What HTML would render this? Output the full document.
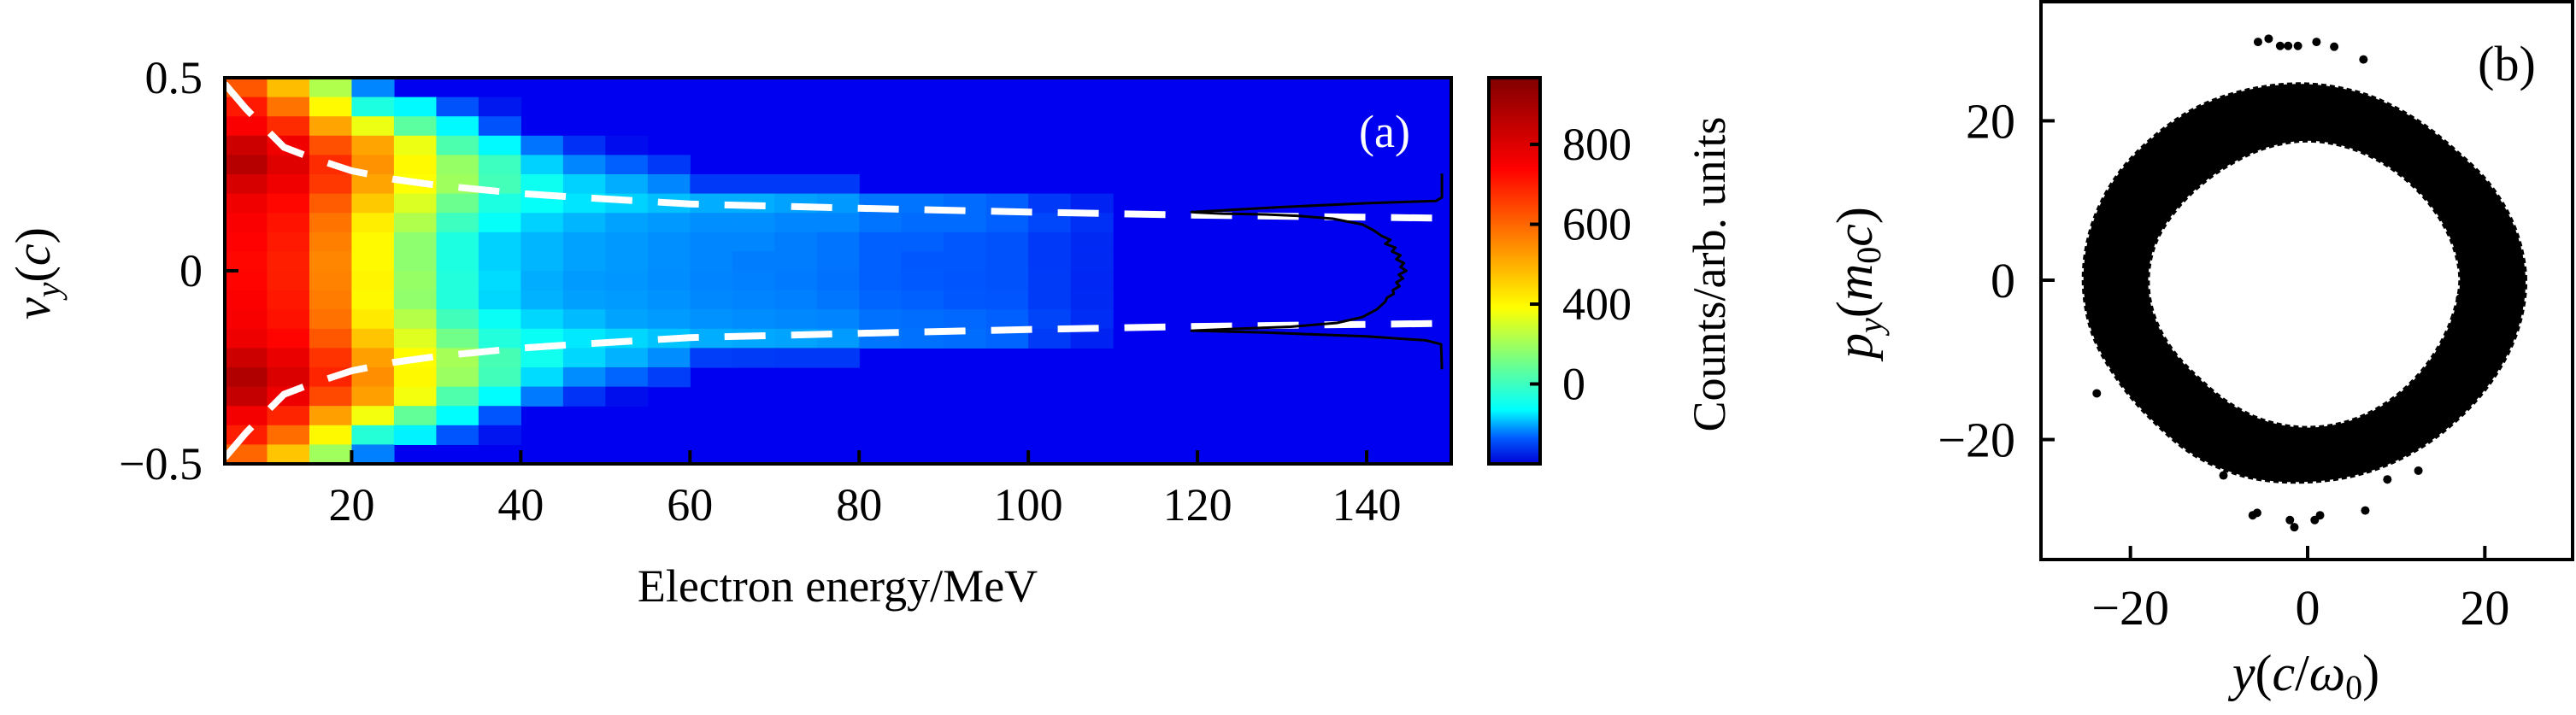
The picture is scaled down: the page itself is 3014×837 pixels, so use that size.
<!DOCTYPE html>
<html><head><meta charset="utf-8"><style>
html,body{margin:0;padding:0;background:#fff;}
svg{display:block;font-family:"Liberation Serif",serif;}
</style></head><body>
<svg id="fig" width="3014" height="837" viewBox="0 0 3014 837" xmlns="http://www.w3.org/2000/svg">
<defs>
<clipPath id="clipA"><rect x="263" y="91" width="1435" height="452"/></clipPath>
<linearGradient id="cbGrad" x1="0" y1="1" x2="0" y2="0">
<stop offset="0" stop-color="rgb(0,0,215)"/><stop offset="0.066" stop-color="rgb(0,90,255)"/>
<stop offset="0.14" stop-color="rgb(0,255,255)"/><stop offset="0.25" stop-color="rgb(100,255,150)"/>
<stop offset="0.405" stop-color="rgb(255,255,0)"/><stop offset="0.566" stop-color="rgb(255,140,0)"/>
<stop offset="0.765" stop-color="rgb(255,0,0)"/><stop offset="1" stop-color="rgb(128,0,0)"/>
</linearGradient>
</defs>
<g id="panelA">
<rect x="263" y="91" width="1435" height="452" fill="rgb(0,0,240)"/>
<g id="heat" clip-path="url(#clipA)"></g>
<g id="envelopes" clip-path="url(#clipA)"></g>
<g id="profile" clip-path="url(#clipA)"></g>
<rect x="263" y="91" width="1435" height="452" fill="none" stroke="#000" stroke-width="4"/>
<g id="axesA"></g>
<text x="1620" y="172" font-size="54" fill="#fff" text-anchor="middle">(a)</text>
<text x="980" y="704" font-size="54" text-anchor="middle">Electron energy/MeV</text>
<text transform="translate(58,320) rotate(-90)" font-size="58" text-anchor="middle"><tspan font-style="italic">v</tspan><tspan font-style="italic" font-size="40" dy="12">y</tspan><tspan dy="-12">(</tspan><tspan font-style="italic">c</tspan><tspan>)</tspan></text>
<rect x="1742" y="91" width="60" height="452" fill="url(#cbGrad)" stroke="#000" stroke-width="4"/>
<g id="cbTicks"></g>
<text transform="translate(2018,321) rotate(-90)" font-size="54" text-anchor="middle">Counts/arb. units</text>
</g>
<g id="panelB">
<g id="ring"></g>
<g id="outliers"></g>
<rect x="2388" y="2" width="622" height="653" fill="none" stroke="#000" stroke-width="4"/>
<g id="axesB"></g>
<text x="2933" y="94" font-size="58" text-anchor="middle">(b)</text>
<text x="2698" y="808" font-size="60" text-anchor="middle"><tspan font-style="italic">y</tspan>(<tspan font-style="italic">c</tspan>/<tspan font-style="italic">ω</tspan><tspan font-size="40" dy="10">0</tspan><tspan dy="-10">)</tspan></text>
<text transform="translate(2190,331) rotate(-90)" font-size="60" text-anchor="middle"><tspan font-style="italic">p</tspan><tspan font-style="italic" font-size="40" dy="12">y</tspan><tspan dy="-12">(</tspan><tspan font-style="italic">m</tspan><tspan font-size="40" dy="10">0</tspan><tspan dy="-10" font-style="italic">c</tspan>)</text>
</g>
</svg>
<script>
// ---------- Panel (a) data ----------
const eBinStart = 5, eBinWidth = 5, nEBins = 29;
const vBinTop = 0.5, vBinHeight = 0.05;
const heatRows = [
[622,481,315,83],
[705,581,398,166,133,58,17],
[747,681,515,374,232,133,58],
[830,764,631,515,374,216,133,75,33,8],
[871,797,681,539,398,290,199,116,83,66,41],
[813,764,664,515,390,299,207,149,116,100,83,41,41,41,41],
[764,730,614,465,357,249,166,141,124,116,108,100,100,95,91,75,75,71,66,41,25],
[747,714,581,415,315,199,141,116,104,95,91,87,87,83,83,75,71,71,66,50,33],
[739,705,564,398,282,166,116,104,95,91,87,83,83,79,75,66,66,62,58,41,29],
[730,697,556,398,282,166,116,104,95,91,87,83,79,79,75,66,62,62,58,41,29],
[735,700,560,405,290,170,120,100,92,90,86,82,80,78,74,66,63,60,58,42,28],
[745,708,570,400,285,170,118,102,94,92,88,84,82,80,76,68,66,62,60,42,30],
[752,716,585,420,320,205,145,118,106,96,92,88,86,84,82,74,72,70,66,48,32],
[770,735,620,470,360,255,170,145,126,118,110,100,98,96,92,76,74,72,68,42,24],
[830,775,670,520,395,305,210,152,118,102,86,44,42,40,40],
[880,805,690,545,400,295,205,120,86,68,44],
[845,770,640,520,380,220,135,78,36,10],
[760,690,520,380,240,135,60],
[700,590,400,175,130,60,15],
[600,470,300,80]
];
const envE = [5,7.5,10,12,15,20,25,30,40,50,60,80,100,120,150];
const envV = [0.484,0.42,0.364,0.32,0.295,0.259,0.237,0.222,0.2,0.186,0.173,0.162,0.152,0.144,0.136];
const profV = [0.252,0.19,0.181,0.175,0.165,0.152,0.148,0.146,0.142,0.135,0.12,0.105,0.09,0.08,0.07,0.06,0.05,0.04,0.03,0.02,0.01,0,-0.01,-0.02,-0.03,-0.04,-0.05,-0.06,-0.07,-0.08,-0.1,-0.12,-0.135,-0.145,-0.15,-0.155,-0.16,-0.17,-0.18,-0.19,-0.255];
const profE = [148.9,148.9,148.2,140,130,119.3,123,128,132,136,139.5,140.8,141.8,142.8,142.2,143.4,143.0,144.0,143.5,144.4,144.0,144.7,143.8,144.3,143.5,143.9,143.1,143.2,142.4,142.2,141.2,139.5,136.5,131,125,119.3,128,140,147,148.8,148.9];
const xTicksA = [20,40,60,80,100,120,140];
const yTicksA = [0.5,0,-0.5];
const yTickLabelsA = ["0.5","0","\u22120.5"];
const cbTickValues = [800,600,400,200];
const cbTickLabels = ["800","600","400","0"];
const cbMin = 0, cbMax = 967;
const xMinA = 5, xMaxA = 150, yMinA = -0.5, yMaxA = 0.5;

// ---------- Panel (b) data ----------
const ringAngles = [0,15,30,45,60,75,90,105,120,135,150,165,180,195,210,225,240,255,270,285,300,315,330,345];
const ringOuter = [24.6,24.3,23.8,23.3,23.6,24.2,24.6,24.8,25.0,25.0,25.2,25.3,25.3,25.2,24.8,24.8,25.4,25.6,25.3,25.0,24.6,24.3,24.3,24.5];
const ringInner = [17.2,17.0,16.8,16.8,17.0,17.3,17.5,17.3,17.0,17.0,17.3,17.8,18.0,17.9,17.6,17.4,17.8,18.3,18.5,18.3,17.8,17.3,17.0,17.0];
const outX = [-5.6,-4.4,-3.1,-2.2,-1.1,1.0,3.0,6.3,-6.2,-5.7,-2.0,-1.5,0.8,1.4,6.5,-9.5,12.5,-21,-23.8,17.2,-8,9];
const outY = [29.9,30.3,29.4,29.4,29.4,29.9,29.3,27.7,-29.5,-29.2,-30.1,-31.0,-30.1,-29.5,-28.9,-24.5,-23.9,-10.5,-14.2,-2.3,21.8,-25];
const xTicksB = [-20,0,20];
const yTicksB = [20,0,-20];
const xMinB = -30, xMaxB = 30, yMinB = -35, yMaxB = 35;

const NS = "http://www.w3.org/2000/svg";
function mk(tag, attrs, parent){ const e=document.createElementNS(NS,tag); for(const k in attrs) e.setAttribute(k,attrs[k]); parent.appendChild(e); return e; }

// axes (a)
const AX = {l:263,r:1698,t:91,b:543};
function xA(e){ return AX.l + (e-xMinA)/(xMaxA-xMinA)*(AX.r-AX.l); }
function yA(v){ return AX.b - (v-yMinA)/(yMaxA-yMinA)*(AX.b-AX.t); }
const CB = {t:91,b:543,l:1742,r:1802};
function yCB(val){ return CB.b - (val-cbMin)/(cbMax-cbMin)*(CB.b-CB.t); }

const cmapStops = [[0,[0,0,235]],[0.066,[0,90,255]],[0.14,[0,255,255]],[0.25,[100,255,150]],[0.405,[255,255,0]],[0.566,[255,140,0]],[0.765,[255,0,0]],[1,[128,0,0]]];
function cmap(val){
  let t=(val-cbMin)/(cbMax-cbMin); t=Math.max(0,Math.min(1,t));
  for(let i=1;i<cmapStops.length;i++){ if(t<=cmapStops[i][0]){ const a=cmapStops[i-1],b=cmapStops[i]; const f=(t-a[0])/(b[0]-a[0]);
    const c=a[1].map((x,j)=>Math.round(x+(b[1][j]-x)*f)); return `rgb(${c[0]},${c[1]},${c[2]})`; } }
  return "rgb(128,0,0)";
}

const heat=document.getElementById('heat');
heatRows.forEach((row,ri)=>{
  for(let ci=0;ci<nEBins;ci++){
    const val = ci<row.length ? row[ci] : 0;
    if(val<=0) continue;
    const e0=eBinStart+ci*eBinWidth, e1=e0+eBinWidth;
    const v0=vBinTop-ri*vBinHeight, v1=v0-vBinHeight;
    const r=mk('rect',{x:xA(e0),y:yA(v0),width:xA(e1)-xA(e0)+0.6,height:yA(v1)-yA(v0)+0.6,fill:cmap(val)},heat);
    
    
  }
});

const env=document.getElementById('envelopes');
[1,-1].forEach(sgn=>{
  const d=envE.map((e,i)=>(i?'L':'M')+xA(e).toFixed(1)+' '+yA(sgn*envV[i]).toFixed(1)).join(' ');
  const p=mk('path',{d:d,fill:'none',stroke:'#fff','stroke-width':8,'stroke-dasharray':'48 30'},env);
  
  
});

const prof=document.getElementById('profile');
const pd=profV.map((v,i)=>(i?'L':'M')+xA(profE[i]).toFixed(1)+' '+yA(v).toFixed(1)).join(' ');
const pp=mk('path',{d:pd,fill:'none',stroke:'#000','stroke-width':3,'stroke-linejoin':'round'},prof);



const axA=document.getElementById('axesA');
xTicksA.forEach(t=>{
  const x=xA(t);
  const l=mk('line',{x1:x,x2:x,y1:AX.b,y2:AX.b-16,stroke:'#000','stroke-width':4},axA);
  
  
  const tx=mk('text',{x:x,y:609,'font-size':54,'text-anchor':'middle'},axA); tx.textContent=String(t);
  
  
});
yTicksA.forEach((t,i)=>{
  const y=yA(t);
  const l=mk('line',{x1:AX.l,x2:AX.l+16,y1:y,y2:y,stroke:'#000','stroke-width':4},axA);
  
  
  const tx=mk('text',{x:237,y:y+18,'font-size':54,'text-anchor':'end'},axA); tx.textContent=yTickLabelsA[i];
  
  
});
const cbt=document.getElementById('cbTicks');
cbTickValues.forEach((v,i)=>{
  const y=yCB(v);
  const l=mk('line',{x1:CB.r,x2:CB.r-12,y1:y,y2:y,stroke:'#000','stroke-width':4},cbt);
  
  
  const tx=mk('text',{x:1828,y:y+18,'font-size':54},cbt); tx.textContent=cbTickLabels[i];
  
  
});

// axes (b)
const BX={l:2388,r:3010,t:2,b:655};
function xB(x){ return 2700 + x*(BX.r-BX.l)/(xMaxB-xMinB) - ( (xMaxB+xMinB)/2 )*0; }
function yB(y){ return 328 - y*(BX.b-BX.t)/(yMaxB-yMinB); }
const ring=document.getElementById('ring');
function ringPts(radii){ return ringAngles.map((a,i)=>{ const th=a*Math.PI/180; return [xB(radii[i]*Math.cos(th)), yB(radii[i]*Math.sin(th))]; }); }
function smoothClosed(pts){
  const n=pts.length; let d='M'+pts[0][0].toFixed(1)+' '+pts[0][1].toFixed(1);
  for(let i=0;i<n;i++){ const p0=pts[(i-1+n)%n],p1=pts[i],p2=pts[(i+1)%n],p3=pts[(i+2)%n];
    const c1=[p1[0]+(p2[0]-p0[0])/6,p1[1]+(p2[1]-p0[1])/6], c2=[p2[0]-(p3[0]-p1[0])/6,p2[1]-(p3[1]-p1[1])/6];
    d+=` C${c1[0].toFixed(1)} ${c1[1].toFixed(1)} ${c2[0].toFixed(1)} ${c2[1].toFixed(1)} ${p2[0].toFixed(1)} ${p2[1].toFixed(1)}`; }
  return d+'Z';
}
const rp=mk('path',{d:smoothClosed(ringPts(ringOuter))+' '+smoothClosed(ringPts(ringInner).reverse()),fill:'#000','fill-rule':'evenodd',stroke:'#000','stroke-width':4,'stroke-dasharray':'6 4'},ring);


const outl=document.getElementById('outliers');
outX.forEach((x,i)=>{
  const c=mk('circle',{cx:xB(x),cy:yB(outY[i]),r:5,fill:'#000'},outl);
  
  
});
const axB=document.getElementById('axesB');
xTicksB.forEach(t=>{
  const x=xB(t);
  const l=mk('line',{x1:x,x2:x,y1:BX.b,y2:BX.b-16,stroke:'#000','stroke-width':4},axB);
  
  
  const tx=mk('text',{x:x,y:731,'font-size':58,'text-anchor':'middle'},axB); tx.textContent=t<0?'\u2212'+(-t):String(t);
  
  
});
yTicksB.forEach(t=>{
  const y=yB(t);
  const l=mk('line',{x1:BX.l,x2:BX.l+16,y1:y,y2:y,stroke:'#000','stroke-width':4},axB);
  
  
  const tx=mk('text',{x:2358,y:y+20,'font-size':58,'text-anchor':'end'},axB); tx.textContent=t<0?'\u2212'+(-t):String(t);
  
  
});
</script>
</body></html>
